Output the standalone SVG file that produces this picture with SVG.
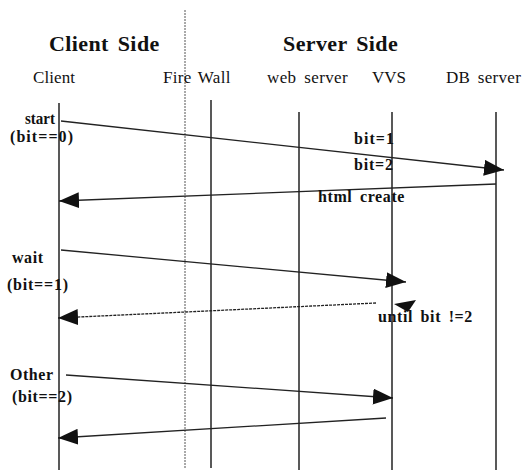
<svg xmlns="http://www.w3.org/2000/svg" width="526" height="472" viewBox="0 0 526 472" font-family="'Liberation Serif', 'DejaVu Serif', 'Times New Roman', serif">
<style>
text{font-family:'Liberation Serif','DejaVu Serif','Times New Roman',serif;fill:#111}
.title{font-weight:bold;font-size:22px}
.head{font-size:17px}
.lbl{font-weight:bold;font-size:16px}
.life{stroke:#222;stroke-width:1.5;fill:none}
.msg{stroke:#222;stroke-width:1.3;fill:none}
</style>
<defs>
<marker id="ah" markerUnits="userSpaceOnUse" markerWidth="22" markerHeight="16" refX="20" refY="8" orient="auto">
<path d="M0,0 L20,8 L0,16 Z" fill="#111"/>
</marker>
</defs>
<rect width="526" height="472" fill="#fff"/>
<text class="title" x="49" y="51" word-spacing="3" letter-spacing="0.4">Client Side</text>
<text class="title" x="283" y="51" word-spacing="3" letter-spacing="0.4">Server Side</text>
<g id="client">
<text class="head" x="33" y="83" textLength="42" lengthAdjust="spacing">Client</text>
<line class="life" x1="59" y1="103" x2="59" y2="470" stroke-width="2"/>
</g>
<g id="boundary">
<line x1="185" y1="10" x2="185" y2="468" stroke="#555" stroke-width="1" stroke-dasharray="2,1"/>
</g>
<g id="firewall">
<text class="head" x="163" y="83" word-spacing="2" letter-spacing="0.3">Fire Wall</text>
<line class="life" x1="211" y1="100" x2="211" y2="468"/>
</g>
<g id="webserver">
<text class="head" x="267" y="83" word-spacing="3" letter-spacing="0.4">web server</text>
<line class="life" x1="299" y1="112" x2="299" y2="470"/>
</g>
<g id="vvs">
<text class="head" x="372" y="83" textLength="34" lengthAdjust="spacing">VVS</text>
<line class="life" x1="392" y1="112" x2="392" y2="470"/>
</g>
<g id="dbserver">
<text class="head" x="446" y="83" word-spacing="3" letter-spacing="0.3">DB server</text>
<line class="life" x1="496" y1="112" x2="496" y2="470"/>
</g>
<g id="connectors">
<line class="msg" x1="61" y1="121" x2="504" y2="170" marker-end="url(#ah)"/>
<line class="msg" x1="496" y1="184" x2="59" y2="201" marker-end="url(#ah)"/>
<line class="msg" x1="61" y1="250" x2="406" y2="282" marker-end="url(#ah)"/>
<line class="msg" x1="376" y1="303" x2="58" y2="318" marker-end="url(#ah)" stroke="#555" stroke-dasharray="3,1"/>
<polygon points="394,304 416,300 408,312" fill="#111"/>
<line class="msg" x1="66" y1="375" x2="393" y2="398" marker-end="url(#ah)"/>
<line class="msg" x1="386" y1="418" x2="58" y2="438" marker-end="url(#ah)"/>
</g>
<g id="labels">
<text class="lbl" x="25" y="124" textLength="30" lengthAdjust="spacingAndGlyphs">start</text>
<text class="lbl" x="10" y="142" textLength="63" lengthAdjust="spacing">(bit==0)</text>
<text class="lbl" x="354" y="144" textLength="40" lengthAdjust="spacing">bit=1</text>
<text class="lbl" x="354" y="170" textLength="39" lengthAdjust="spacing">bit=2</text>
<text class="lbl" x="318" y="202" word-spacing="3" letter-spacing="0.6">html create</text>
<text class="lbl" x="12" y="263" textLength="31" lengthAdjust="spacing">wait</text>
<text class="lbl" x="7" y="290" textLength="61" lengthAdjust="spacing">(bit==1)</text>
<text class="lbl" x="378" y="322" word-spacing="3" letter-spacing="0.6">until bit !=2</text>
<text class="lbl" x="10" y="380" textLength="43" lengthAdjust="spacing">Other</text>
<text class="lbl" x="12" y="402" textLength="60" lengthAdjust="spacing">(bit==2)</text>
</g>
</svg>
